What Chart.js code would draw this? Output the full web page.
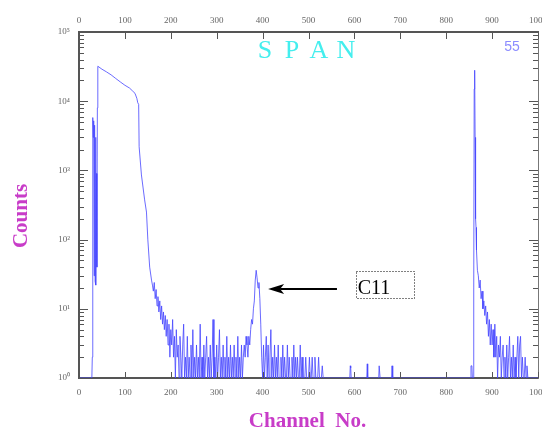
<!DOCTYPE html>
<html lang="en">
<head>
<meta charset="UTF-8">
<title>SPAN</title>
<script src="https://cdn.jsdelivr.net/npm/chart.js"></script>
<style>
  html, body { margin: 0; padding: 0; background: #fff; }
  #wrap { width: 542px; height: 429px; }
</style>
</head>
<body>
<div id="wrap"><canvas id="spec" width="542" height="429"></canvas></div>
<script>
// spectrum (channel -> counts, 1 = empty channel)
const channels = [
  0, 28, 29, 30, 31, 32, 33, 34, 35, 36,
  37, 38, 39, 40, 41, 50, 60, 70, 80, 90,
  100, 110, 117, 122, 126, 128, 130, 131, 136, 143,
  147, 150, 154, 158, 160,
  162, 164, 166, 168, 170, 172, 174, 176, 178, 180,
  182, 184, 186, 188, 190, 192, 194, 196, 198, 200,
  202, 204, 206, 208, 210, 212, 214, 216, 218, 220,
  222, 224, 226, 228, 230, 232, 234, 236, 238, 240,
  242, 244, 246, 248, 250, 252, 254, 256, 258, 260,
  262, 264, 266, 268, 270, 272, 274, 276, 278, 280,
  282, 284, 286, 288, 290, 292, 294, 296, 298, 300,
  302, 304, 306, 308, 310, 312, 314, 316, 318, 320,
  322, 324, 326, 328, 330, 332, 334, 336, 338, 340,
  342, 344, 346, 348, 350, 352, 354, 356, 358, 360,
  362, 364, 366, 368, 370, 372, 374, 376, 378, 380,
  382, 384, 386, 388, 390, 392, 394, 396, 398, 400,
  402, 404, 406, 408, 410, 412, 414, 416, 418, 420,
  422, 424, 426, 428, 430, 432, 434, 436, 438, 440,
  442, 444, 446, 448, 450, 452, 454, 456, 458, 460,
  462, 464, 466, 468, 470, 472, 474, 476, 478, 480,
  482, 484, 486, 488, 490, 492, 494, 496, 498, 500,
  502, 504, 506, 508, 510, 512, 514, 516, 518, 520,
  522, 524, 526, 528, 530, 532, 534, 536,
  540, 590, 591, 592, 593, 627, 628, 629, 653, 654,
  655, 656, 681, 682, 683, 684, 853, 854, 856, 857,
  858, 859, 860, 861, 862, 863, 864, 865, 866, 868,
  870, 872, 874, 876, 878, 880, 882, 884, 886, 888,
  890, 892, 894, 896, 898, 900, 902, 904, 906, 908,
  910, 912, 914, 916, 918, 920, 922, 924, 926, 928,
  930, 932, 934, 936, 938, 940, 942, 944, 946, 948,
  950, 952, 954, 956, 958, 960, 962, 964, 966, 968,
  970, 972, 974, 976, 978, 980, 1000
];
const counts = [
  1, 1, 2, 5800, 3000, 5200, 30, 4500, 25, 3000,
  22, 900, 40, 8000, 32000, 29000, 26500, 24000, 21300, 19000,
  17000, 15500, 14000, 13000, 11000, 9500, 9000, 2200, 860, 375,
  250, 99, 40, 26, 22,
  18, 24, 14, 19, 11, 15, 9, 13, 7, 11,
  6, 9, 5, 8, 4, 7, 3, 6, 2, 5,
  3, 7, 2, 4, 1, 5, 2, 3, 1, 4,
  2, 1, 3, 6, 1, 2, 1, 4, 1, 2,
  1, 3, 1, 5, 1, 2, 1, 3, 1, 2,
  1, 6, 1, 2, 1, 3, 1, 2, 4, 1,
  2, 1, 3, 1, 2, 7, 1, 2, 1, 3,
  1, 2, 5, 1, 2, 1, 3, 1, 2, 1,
  4, 1, 2, 1, 3, 1, 2, 1, 3, 1,
  2, 1, 4, 1, 2, 1, 3, 1, 2, 3,
  2, 4, 3, 2, 4, 3, 5, 7, 6, 10,
  13, 26, 36, 28, 20, 24, 14, 6, 2, 1,
  3, 1, 2, 4, 1, 3, 1, 2, 5, 1,
  2, 1, 3, 1, 2, 1, 3, 1, 1, 2,
  1, 3, 1, 2, 1, 1, 3, 1, 2, 1,
  1, 2, 1, 3, 1, 2, 1, 2, 1, 1,
  3, 1, 2, 1, 1, 1, 2, 1, 1, 1,
  2, 1, 1, 2, 1, 1, 2, 1, 1, 1,
  2, 1, 1, 1, 1.5, 1, 1, 1,
  1, 1, 1.5, 1.4, 1, 1, 1.6, 1, 1, 1.5,
  1.5, 1, 1, 1.5, 1.4, 1, 1, 1.5, 1.5, 1,
  1, 1, 20, 15000, 28000, 3000, 200, 150, 70, 36,
  30, 20, 26, 14, 18, 10, 13, 8, 11, 6,
  9, 4, 7, 3, 6, 3, 5, 2, 6, 2,
  4, 1, 3, 2, 4, 1, 2, 3, 1, 2,
  1, 3, 1, 2, 4, 1, 2, 1, 3, 1,
  2, 1, 2, 4, 1, 3, 4, 1, 2, 1,
  1, 2, 1, 1.5, 1, 1, 1
];

const xTicks = [0, 100, 200, 300, 400, 500, 600, 700, 800, 900, 1000];
const decades = [1, 10, 100, 1000, 10000, 100000];
const minors = [2, 3, 4, 5, 6, 7, 8, 9];
const sup = ['\u2070', '\u00b9', '\u00b2', '\u00b3', '\u2074', '\u2075'];

const chartTitle = 'SPAN';
const runNo = '55';
const xTitle = 'Channel  No.';
const yTitle = 'Counts';
const peakName = 'C11';

const tickFont = { family: 'Liberation Serif', size: 9 };
const axisColor = '#555';

// inward tick marks, titles and the C11 arrow
const decor = {
  id: 'decor',
  afterDraw(chart) {
    const { ctx, chartArea: a, scales } = chart;
    const x = scales.x, y = scales.y;
    ctx.save();

    ctx.strokeStyle = axisColor;
    ctx.lineWidth = 1;
    ctx.beginPath();
    xTicks.forEach(v => {
      const px = Math.round(x.getPixelForValue(v)) + 0.5;
      ctx.moveTo(px, a.bottom); ctx.lineTo(px, a.bottom - 6);
      ctx.moveTo(px, a.top); ctx.lineTo(px, a.top + 7);
    });
    decades.forEach((d, i) => {
      const py = Math.round(y.getPixelForValue(d)) + 0.5;
      ctx.moveTo(a.left, py); ctx.lineTo(a.left + 9, py);
      ctx.moveTo(a.right, py); ctx.lineTo(a.right - 9, py);
      if (i === decades.length - 1) return;
      minors.forEach(m => {
        const q = Math.round(y.getPixelForValue(d * m)) + 0.5;
        ctx.moveTo(a.left, q); ctx.lineTo(a.left + 5, q);
        ctx.moveTo(a.right, q); ctx.lineTo(a.right - 5, q);
      });
    });
    ctx.stroke();

    // title letters
    ctx.fillStyle = '#44eeee';
    ctx.font = '26px "Liberation Serif"';
    ctx.textAlign = 'center';
    ctx.textBaseline = 'alphabetic';
    const cx = (a.left + a.right) / 2 - 3;
    [...chartTitle].forEach((ch, i) => {
      ctx.fillText(ch, cx + (i - 1.5) * 27, a.top + 26);
    });

    ctx.fillStyle = '#8c8cff';
    ctx.font = '14px "Liberation Sans"';
    ctx.fillText(runNo, a.right - 26, a.top + 19);

    // axis titles
    ctx.fillStyle = '#c83cc8';
    ctx.font = 'bold 21px "Liberation Serif"';
    ctx.fillText(xTitle, cx + 2, 427);
    ctx.save();
    ctx.translate(22, 216);
    ctx.rotate(-Math.PI / 2);
    ctx.textBaseline = 'middle';
    ctx.fillText(yTitle, 0, 0);
    ctx.restore();

    // arrow to the C11 peak
    const tipX = x.getPixelForValue(412), tailX = x.getPixelForValue(562);
    const ay = Math.round(y.getPixelForValue(19.3));
    ctx.strokeStyle = '#000';
    ctx.fillStyle = '#000';
    ctx.lineWidth = 2;
    ctx.beginPath();
    ctx.moveTo(tailX, ay); ctx.lineTo(tipX + 12, ay);
    ctx.stroke();
    ctx.beginPath();
    ctx.moveTo(tipX, ay);
    ctx.lineTo(tipX + 16, ay - 5);
    ctx.lineTo(tipX + 12, ay);
    ctx.lineTo(tipX + 16, ay + 5);
    ctx.closePath();
    ctx.fill();

    // dotted label box
    const bx0 = x.getPixelForValue(603), bx1 = x.getPixelForValue(730);
    const by0 = y.getPixelForValue(35.2), by1 = y.getPixelForValue(14.3);
    ctx.lineWidth = 1;
    ctx.setLineDash([1, 2]);
    ctx.strokeRect(Math.round(bx0) + 0.5, Math.round(by0) + 0.5, Math.round(bx1 - bx0), Math.round(by1 - by0));
    ctx.setLineDash([]);
    ctx.font = '20px "Liberation Serif"';
    ctx.textAlign = 'left';
    ctx.fillText(peakName, bx0 + 2, by1 - 4);

    ctx.restore();
  }
};

const xAxis = (pos, h, pad) => ({
  type: 'linear', axis: 'x', position: pos, min: 0, max: 1000, z: 1,
  afterBuildTicks(s) { s.ticks = xTicks.map(v => ({ value: v })); },
  afterFit(s) { s.height = h; s.paddingLeft = 0; s.paddingRight = 0; },
  ticks: {
    font: tickFont, color: '#666', padding: pad, maxRotation: 0, autoSkip: false,
    callback: v => String(v)
  },
  grid: { display: false, drawTicks: false },
  border: { display: true, color: axisColor, width: 2 }
});

new Chart(document.getElementById('spec'), {
  type: 'line',
  data: {
    datasets: [{
      data: channels.map((c, i) => ({ x: c, y: counts[i] })),
      borderColor: 'rgba(70, 70, 255, 0.8)',
      borderWidth: 1,
      pointRadius: 0,
      tension: 0,
      fill: false
    }]
  },
  options: {
    responsive: false,
    animation: false,
    events: [],
    layout: { padding: 0 },
    plugins: { legend: { display: false }, tooltip: { enabled: false } },
    scales: {
      x: xAxis('bottom', 51, 9),
      xTop: xAxis('top', 32, 6),
      y: {
        type: 'logarithmic', position: 'left', min: 1, max: 100000, z: 1,
        afterBuildTicks(s) { s.ticks = decades.map(v => ({ value: v, major: true })); },
        afterFit(s) { s.width = 79; s.paddingTop = 0; s.paddingBottom = 0; },
        ticks: {
          font: tickFont, color: '#666', padding: 9, autoSkip: false,
          callback: v => '10' + sup[Math.round(Math.log10(v))]
        },
        grid: { display: false, drawTicks: false },
        border: { display: true, color: axisColor, width: 2 }
      },
      yRight: {
        type: 'logarithmic', axis: 'y', position: 'right', min: 1, max: 100000, z: 1,
        afterFit(s) { s.width = 4; s.paddingTop = 0; s.paddingBottom = 0; },
        ticks: { display: false },
        grid: { display: false, drawTicks: false },
        border: { display: true, color: '#777', width: 1 }
      }
    }
  },
  plugins: [decor]
});
</script>
</body>
</html>
